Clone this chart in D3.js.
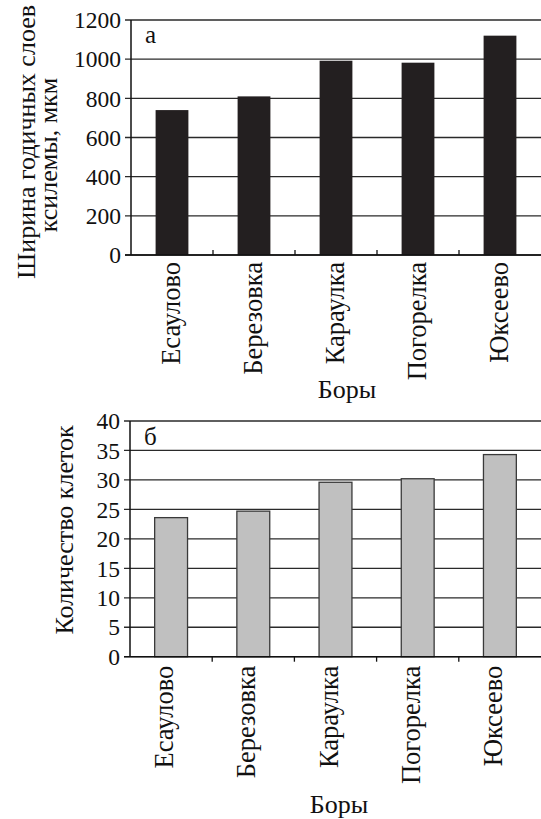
<!DOCTYPE html>
<html>
<head>
<meta charset="utf-8">
<script src="https://cdn.jsdelivr.net/npm/d3@7"></script>
<style>
  html, body { margin: 0; padding: 0; background: #fff; }
  svg { display: block; }
</style>
</head>
<body>
<svg id="chart" width="541" height="819"></svg>
<script>
// Pine forests (боры) along the sampling transect
const categories = ["Есаулово", "Березовка", "Караулка", "Погорелка", "Юксеево"];

// (а) xylem annual ring width, µm
const ringWidth = [740, 810, 992, 982, 1120];
const ringTicks = [0, 200, 400, 600, 800, 1000, 1200];

// (б) number of cells in the ring
const cellCount = [23.6, 24.7, 29.6, 30.2, 34.3];
const cellTicks = [0, 5, 10, 15, 20, 25, 30, 35, 40];

const FONT = "Liberation Serif";

const svg = d3.select("#chart");

function addText(parent, size) {
  return parent.append("text")
    .attr("font-family", FONT)
    .attr("font-size", size)
    .attr("fill", "#111");
}

function drawPanel(p) {
  const g = svg.append("g");

  const x = d3.scaleBand()
    .domain(categories)
    .range([p.left, p.right])
    .paddingInner(0.6)
    .paddingOuter(0.3);

  const y = d3.scaleLinear()
    .domain([0, p.max])
    .range([p.bottom, p.top]);

  // horizontal gridlines (with short ticks left of the axis)
  g.append("g").selectAll("line")
    .data(p.ticks)
    .join("line")
    .attr("x1", p.left - 6)
    .attr("x2", p.right)
    .attr("y1", d => y(d))
    .attr("y2", d => y(d))
    .attr("stroke", "#2a2a2a")
    .attr("stroke-width", 1.3);

  // y tick labels
  const yl = g.append("g");
  p.ticks.forEach(t => {
    addText(yl, 23.5)
      .attr("x", p.left - 10)
      .attr("y", y(t))
      .attr("dy", "0.35em")
      .attr("text-anchor", "end")
      .text(t);
  });

  // bars
  g.append("g").selectAll("rect")
    .data(p.values)
    .join("rect")
    .attr("x", (d, i) => x(categories[i]))
    .attr("width", x.bandwidth())
    .attr("y", d => y(d))
    .attr("height", d => y(0) - y(d))
    .attr("fill", p.fill)
    .attr("stroke", p.stroke)
    .attr("stroke-width", p.stroke === "none" ? 0 : 1.3);

  // y axis line
  g.append("line")
    .attr("x1", p.left).attr("x2", p.left)
    .attr("y1", p.top).attr("y2", p.bottom)
    .attr("stroke", "#111").attr("stroke-width", 1.5);

  // x axis baseline
  g.append("line")
    .attr("x1", p.left - 6).attr("x2", p.right)
    .attr("y1", p.bottom).attr("y2", p.bottom)
    .attr("stroke", "#111").attr("stroke-width", 1.5);

  // category separator ticks on the x axis
  const step = x.step();
  const boundaries = categories.slice(1).map(c => x(c) - (step - x.bandwidth()) / 2);
  g.append("g").selectAll("line")
    .data(boundaries)
    .join("line")
    .attr("x1", d => d).attr("x2", d => d)
    .attr("y1", p.bottom)
    .attr("y2", p.bottom + p.tickDir * 5)
    .attr("stroke", "#111").attr("stroke-width", 1.3);

  // rotated category labels
  const xl = g.append("g");
  categories.forEach(c => {
    addText(xl, 26.5)
      .attr("transform", `translate(${x(c) + x.bandwidth() / 2 + p.labelShift},${p.bottom + p.labelGap}) rotate(-90)`)
      .attr("text-anchor", "end")
      .text(c);
  });

  // x axis title
  addText(g, 26)
    .attr("x", p.xTitleX)
    .attr("y", p.xTitleY)
    .attr("text-anchor", "middle")
    .text("Боры");

  // y axis title (one or more lines)
  p.yTitle.forEach((line, i) => {
    addText(g, 26)
      .attr("transform", `translate(${p.yTitleX[i]},${p.yTitleCY[i]}) rotate(-90)`)
      .attr("text-anchor", "middle")
      .text(line);
  });

  // panel letter
  addText(g, 25)
    .attr("x", p.left + 14)
    .attr("y", p.letterY)
    .text(p.letter);
}

drawPanel({
  values: ringWidth, ticks: ringTicks, max: 1200,
  left: 131, right: 541, top: 20, bottom: 255,
  fill: "#231f20", stroke: "none",
  tickDir: -1, labelGap: 7, labelShift: 8,
  xTitleX: 347, xTitleY: 398,
  yTitle: ["Ширина годичных слоев", "ксилемы, мкм"],
  yTitleX: [35, 57], yTitleCY: [142, 155],
  letter: "а", letterY: 43
});

drawPanel({
  values: cellCount, ticks: cellTicks, max: 40,
  left: 130, right: 541, top: 421, bottom: 656.7,
  fill: "#c0c0c0", stroke: "#3a3a3a",
  tickDir: 1, labelGap: 9, labelShift: 2,
  xTitleX: 339, xTitleY: 813,
  yTitle: ["Количество клеток"],
  yTitleX: [73], yTitleCY: [530],
  letter: "б", letterY: 445
});
</script>
</body>
</html>
